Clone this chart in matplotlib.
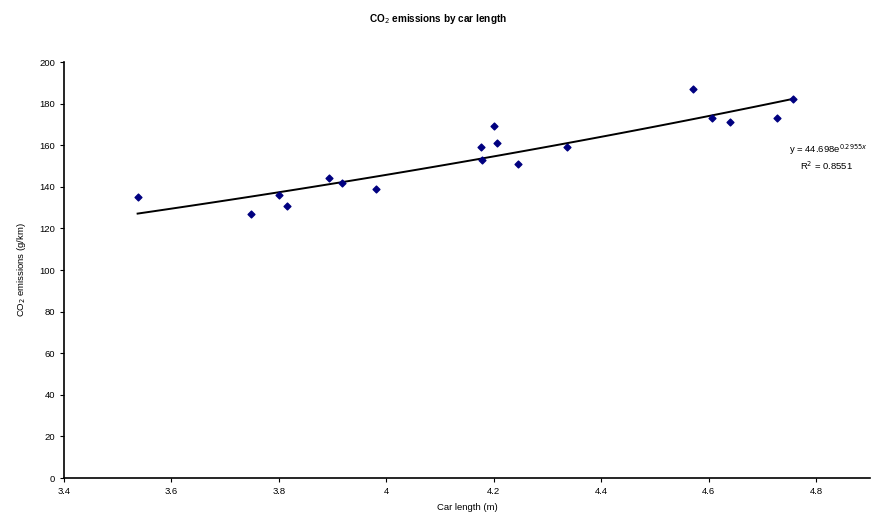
import numpy as np
import matplotlib.pyplot as plt

plt.rcParams['font.family'] = ['Liberation Sans', 'DejaVu Sans']

# car length (m) and CO2 emissions (g/km)
length = [3.537, 3.748, 3.800, 3.815, 3.894, 3.917, 3.981, 4.176, 4.178,
          4.200, 4.206, 4.244, 4.337, 4.570, 4.606, 4.639, 4.726, 4.757]
co2 = [135, 127, 136, 131, 144, 142, 139, 159, 153,
       169, 161, 151, 159, 187, 173, 171, 173, 182]

# exponential trend line as printed on the chart
a, b = 44.698, 0.2955
r2 = 0.8551

fig = plt.figure(figsize=(8.77, 5.26), dpi=100)
ax = fig.add_axes([64/877, 48/526, 806/877, 416/526])

ax.scatter(length, co2, marker='D', s=12, color='#000080', zorder=3)

xt = np.linspace(min(length), max(length), 50)
ax.plot(xt, a*np.exp(b*xt), color='black', lw=1.4, zorder=2)

ax.text(4.75, 158, 'y = 44.698e$^{0.2955x}$', fontsize=6.8, ha='left', va='center')
ax.text(4.77, 150, 'R$^2$ = 0.8551', fontsize=6.8, ha='left', va='center')

ax.set_xlim(3.4, 4.9)
ax.set_ylim(0, 200)
ax.set_xticks([3.4, 3.6, 3.8, 4.0, 4.2, 4.4, 4.6, 4.8])
ax.set_xticklabels(['3.4', '3.6', '3.8', '4', '4.2', '4.4', '4.6', '4.8'])
ax.set_yticks(range(0, 201, 20))
ax.tick_params(labelsize=6.8, length=3, width=0.8, direction='out')
for s in ['top', 'right']:
    ax.spines[s].set_visible(False)
for s in ['left', 'bottom']:
    ax.spines[s].set_linewidth(1.2)

ax.set_xlabel('Car length (m)', fontsize=6.8, labelpad=5)
ax.set_ylabel('CO$_2$ emissions (g/km)', fontsize=6.8, labelpad=8)
fig.suptitle('CO$_2$ emissions by car length', fontsize=7.2, fontweight='bold', y=0.978)

plt.savefig('out.png', dpi=100)
